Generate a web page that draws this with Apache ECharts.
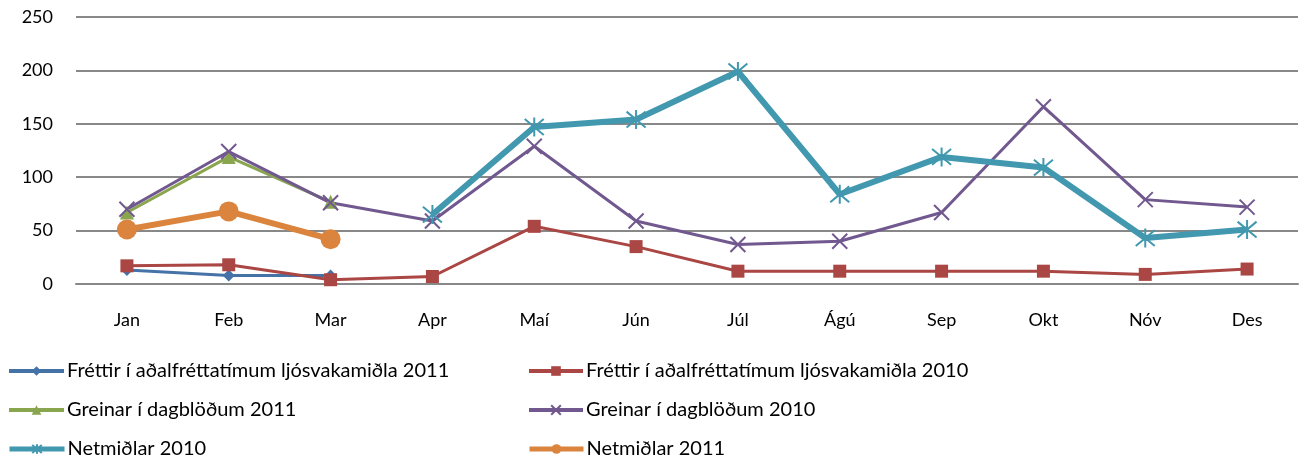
<!DOCTYPE html>
<html><head><meta charset="utf-8">
<script src="https://cdn.jsdelivr.net/npm/echarts@6/dist/echarts.min.js"></script>
<style>html,body{margin:0;padding:0;background:#fff}#c{width:1299px;height:463px}</style>
</head><body><div id="c"></div>
<script>
const categories = ['Jan','Feb','Mar','Apr','Maí','Jún','Júl','Ágú','Sep','Okt','Nóv','Des'];
const yTicks = [0, 50, 100, 150, 200, 250];
const names = [
  'Fréttir í aðalfréttatímum ljósvakamiðla 2011',
  'Fréttir í aðalfréttatímum ljósvakamiðla 2010',
  'Greinar í dagblöðum 2011',
  'Greinar í dagblöðum 2010',
  'Netmiðlar 2010',
  'Netmiðlar 2011'
];
const frettir2011 = [13, 8, 8, null, null, null, null, null, null, null, null, null];
const frettir2010 = [17, 18, 4, 7, 54, 35, 12, 12, 12, 12, 9, 14];
const greinar2011 = [67, 119, 77, null, null, null, null, null, null, null, null, null];
const greinar2010 = [70, 124, 76, 59, 129, 59, 37, 40, 67, 166, 79, 72];
const netmidlar2010 = [null, null, null, 65, 147, 154, 199, 84, 119, 109, 43, 51];
const netmidlar2011 = [51, 68, 42, null, null, null, null, null, null, null, null, null];

const FONT = 'Lato, "Open Sans", sans-serif';
const colors = ['#4572A7', '#AA4643', '#89A54E', '#71588F', '#4198AF', '#DB843D'];
const xPath = 'path://M0,0L10,10M10,0L0,10';
const starPath = 'path://M0,0L10,10M10,0L0,10M5,-1L5,11';

function strokeSym(i) {
  return { color: 'rgba(0,0,0,0)', borderColor: colors[i], borderWidth: 2 };
}

const series = [
  { name: names[0], data: frettir2011, symbol: 'diamond', symbolSize: 12, lineStyle: {width: 3, color: colors[0]}, itemStyle: {color: colors[0]} },
  { name: names[1], data: frettir2010, symbol: 'rect', symbolSize: 13, lineStyle: {width: 3, color: colors[1]}, itemStyle: {color: colors[1]} },
  { name: names[2], data: greinar2011, symbol: 'triangle', symbolSize: 14, lineStyle: {width: 3, color: colors[2]}, itemStyle: {color: colors[2]} },
  { name: names[3], data: greinar2010, symbol: xPath, symbolSize: 15, lineStyle: {width: 3, color: colors[3]}, itemStyle: strokeSym(3) },
  { name: names[4], data: netmidlar2010, symbol: starPath, symbolSize: 19, lineStyle: {width: 6, color: colors[4]}, itemStyle: strokeSym(4) },
  { name: names[5], data: netmidlar2011, symbol: 'circle', symbolSize: 20, lineStyle: {width: 6, color: colors[5]}, itemStyle: {color: colors[5]} }
].map(s => Object.assign({ type: 'line', connectNulls: false, showAllSymbol: true, animation: false, z: 2 }, s));

const legendPos = [[7, 361], [527, 361], [7, 400], [527, 400], [7, 439], [527, 439]];
const legends = names.map((n, i) => ({
  data: [n], left: legendPos[i][0], top: legendPos[i][1],
  itemWidth: i % 2 === 0 ? 55 : 54, itemHeight: 12, itemGap: 0,
  lineStyle: { width: i >= 4 ? 5 : 4 },
  textStyle: { fontFamily: FONT, fontSize: 20, color: '#000', padding: [0, 0, 0, -2] },
  padding: 0, selectedMode: false
}));

const chart = echarts.init(document.getElementById('c'), null, { renderer: 'canvas' });
chart.setOption({
  animation: false,
  color: colors,
  legend: legends,
  grid: { left: 76, right: 1, top: 17, bottom: 179, containLabel: false },
  xAxis: {
    type: 'category', data: categories, boundaryGap: true,
    axisLine: { lineStyle: { color: '#888', width: 2 } },
    axisTick: { show: false },
    axisLabel: { color: '#000', fontFamily: FONT, fontSize: 18, margin: 27 }
  },
  yAxis: {
    type: 'value', min: yTicks[0], max: yTicks[yTicks.length - 1], interval: 50,
    axisLine: { show: false }, axisTick: { show: false },
    splitLine: { lineStyle: { color: '#888', width: 2 } },
    axisLabel: { color: '#000', fontFamily: FONT, fontSize: 18, margin: 23 }
  },
  series: series
});
</script></body></html>
